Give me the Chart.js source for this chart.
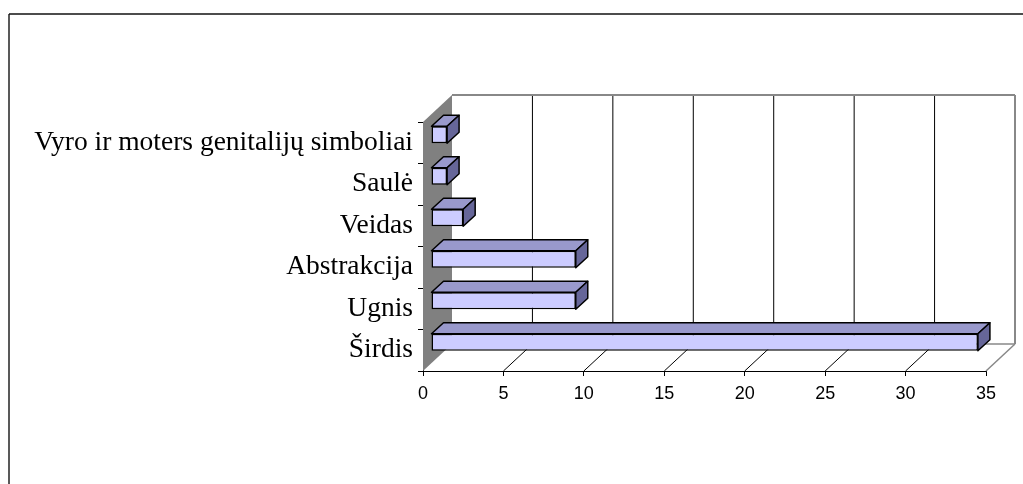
<!DOCTYPE html>
<html lang="lt">
<head>
  <meta charset="UTF-8">
  <title>Simboliai</title>
  <script src="https://cdn.jsdelivr.net/npm/chart.js"></script>
  <style>
    body { margin: 0; background: #fff; }
    canvas { display: block; }
  </style>
</head>
<body>
  <canvas id="myChart" width="1023" height="484"></canvas>

  <script>
    // data, top to bottom as in the picture
    const categories = ['Vyro ir moters genitalijų simboliai', 'Saulė', 'Veidas', 'Abstrakcija', 'Ugnis', 'Širdis'];
    const counts = [1, 1, 2, 9, 9, 34];
    const axisMax = 35;
    const axisStep = 5;

    // 3d look: depth of the box and where the bars sit in it
    const DEPTH = { x: 29, y: -27 };
    const BAR_SHIFT = { x: 8, y: -8 };
    const BAR_DEPTH = { x: 12, y: -11 };

    function line(ctx, x1, y1, x2, y2, color, w) {
      ctx.beginPath();
      ctx.moveTo(x1, y1);
      ctx.lineTo(x2, y2);
      ctx.strokeStyle = color;
      ctx.lineWidth = w;
      ctx.stroke();
    }

    function poly(ctx, pts, fill, stroke, w) {
      ctx.beginPath();
      ctx.moveTo(pts[0][0], pts[0][1]);
      for (let i = 1; i < pts.length; i++) ctx.lineTo(pts[i][0], pts[i][1]);
      ctx.closePath();
      if (fill) { ctx.fillStyle = fill; ctx.fill(); }
      if (stroke) { ctx.strokeStyle = stroke; ctx.lineWidth = w; ctx.lineJoin = 'round'; ctx.stroke(); }
    }

    const box3d = {
      id: 'box3d',
      beforeDatasetsDraw(chart) {
        const ctx = chart.ctx;
        const a = chart.chartArea;
        const xs = chart.scales.x;
        const dx = DEPTH.x, dy = DEPTH.y;
        ctx.save();

        // outer frame
        line(ctx, 9, 14, 9, 484, '#222', 1.5);
        line(ctx, 9, 14, 1023, 14, '#111', 1.5);

        // left wall
        poly(ctx, [[a.left, a.top], [a.left + dx, a.top + dy], [a.left + dx, a.bottom + dy], [a.left, a.bottom]], '#808080');

        // grid on back wall and floor
        for (let v = axisStep; v < axisMax; v += axisStep) {
          const px = xs.getPixelForValue(v);
          line(ctx, px + dx, a.top + dy, px + dx, a.bottom + dy, '#000', 1);
          line(ctx, px, a.bottom, px + dx, a.bottom + dy, '#000', 1);
        }

        // back wall and floor borders
        const rx = xs.getPixelForValue(axisMax);
        line(ctx, a.left + dx, a.top + dy, rx + dx, a.top + dy, '#888', 2);
        line(ctx, rx + dx, a.top + dy, rx + dx, a.bottom + dy, '#888', 2);
        line(ctx, a.left + dx, a.bottom + dy, rx + dx, a.bottom + dy, '#888', 1.5);
        line(ctx, rx, a.bottom, rx + dx, a.bottom + dy, '#888', 1.5);

        ctx.restore();
        ctx.save();
        ctx.translate(BAR_SHIFT.x, BAR_SHIFT.y);
      },
      afterDatasetsDraw(chart) {
        const ctx = chart.ctx;
        const bx = BAR_DEPTH.x, by = BAR_DEPTH.y;
        chart.getDatasetMeta(0).data.forEach(bar => {
          const x0 = bar.base, x1 = bar.x;
          const top = bar.y - bar.height / 2, bot = bar.y + bar.height / 2;
          poly(ctx, [[x0, top], [x1, top], [x1 + bx, top + by], [x0 + bx, top + by]], '#9999CC', '#000', 1.5);
          poly(ctx, [[x1, top], [x1 + bx, top + by], [x1 + bx, bot + by], [x1, bot]], '#666699', '#000', 1.5);
        });
        ctx.restore();
      }
    };

    new Chart(document.getElementById('myChart'), {
      type: 'bar',
      data: {
        labels: categories,
        datasets: [{
          data: counts,
          backgroundColor: '#CCCCFF',
          borderColor: '#000',
          borderWidth: 1.5,
          borderSkipped: false,
          categoryPercentage: 1,
          barPercentage: 0.41,
          clip: false
        }]
      },
      options: {
        indexAxis: 'y',
        responsive: false,
        animation: false,
        devicePixelRatio: 1,
        layout: { padding: { top: 122, right: 37, bottom: 73, left: 0 } },
        plugins: {
          legend: { display: false },
          tooltip: { enabled: false }
        },
        scales: {
          x: {
            min: 0,
            max: axisMax,
            ticks: {
              stepSize: axisStep,
              color: '#000',
              padding: 7,
              font: { family: 'Liberation Sans', size: 18 }
            },
            grid: { drawOnChartArea: false, tickLength: 5, color: '#000' },
            border: { color: '#000', width: 1 },
            afterFit(axis) { axis.height = 40; }
          },
          y: {
            ticks: {
              color: '#000',
              padding: 5,
              font: { family: 'Liberation Serif', size: 27.5 }
            },
            grid: { drawOnChartArea: false, tickLength: 5, color: '#000', offset: true },
            border: { color: '#000', width: 1 },
            afterFit(axis) { axis.width = 423; }
          }
        }
      },
      plugins: [box3d]
    });
  </script>
</body>
</html>
